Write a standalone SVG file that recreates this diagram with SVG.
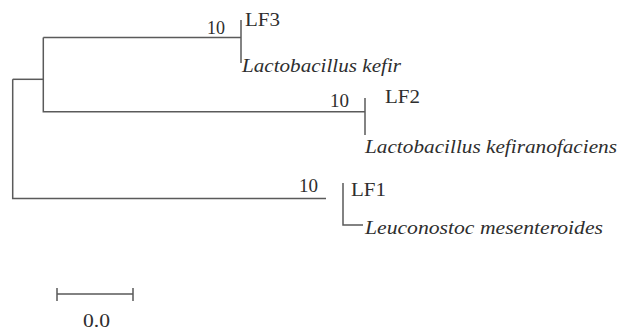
<svg xmlns="http://www.w3.org/2000/svg" width="630" height="331" viewBox="0 0 630 331">
<style>
.br{fill:none;stroke:#5a5a5a;stroke-width:1.5}
.t{font-family:"Liberation Serif","Times New Roman",serif;font-size:19px;fill:#2e2e2e}
.i{font-style:italic}
</style>
<rect width="630" height="331" fill="#ffffff"/>
<g id="connectors">
<path class="br" d="M12.7,79.3 V198.5 H326"/>
<path class="br" d="M12.7,79.3 H43.3"/>
<path class="br" d="M43.3,37.5 V111.7 H365"/>
<path class="br" d="M43.3,37.5 H241"/>
<path class="br" d="M241,20 V63"/>
<path class="br" d="M365,98 V135"/>
<path class="br" d="M343,183 V225 H363"/>
</g>
<g id="node-lf3">
<text class="t" x="207" y="34" textLength="18" lengthAdjust="spacingAndGlyphs">10</text>
<text class="t" x="245" y="26" textLength="35" lengthAdjust="spacingAndGlyphs">LF3</text>
<text class="t i" x="242" y="72" textLength="159" lengthAdjust="spacingAndGlyphs">Lactobacillus kefir</text>
</g>
<g id="node-lf2">
<text class="t" x="330" y="107" textLength="19" lengthAdjust="spacingAndGlyphs">10</text>
<text class="t" x="385" y="103" textLength="35" lengthAdjust="spacingAndGlyphs">LF2</text>
<text class="t i" x="365" y="153" textLength="252" lengthAdjust="spacingAndGlyphs">Lactobacillus kefiranofaciens</text>
</g>
<g id="node-lf1">
<text class="t" x="299" y="192" textLength="19" lengthAdjust="spacingAndGlyphs">10</text>
<text class="t" x="351" y="196" textLength="35" lengthAdjust="spacingAndGlyphs">LF1</text>
<text class="t i" x="365" y="234" textLength="238" lengthAdjust="spacingAndGlyphs">Leuconostoc mesenteroides</text>
</g>
<g id="scale-bar">
<path class="br" d="M57,294 H133 M57,288 V301 M133,288 V301"/>
<text class="t" x="83" y="327" textLength="27" lengthAdjust="spacingAndGlyphs">0.0</text>
</g>
</svg>
